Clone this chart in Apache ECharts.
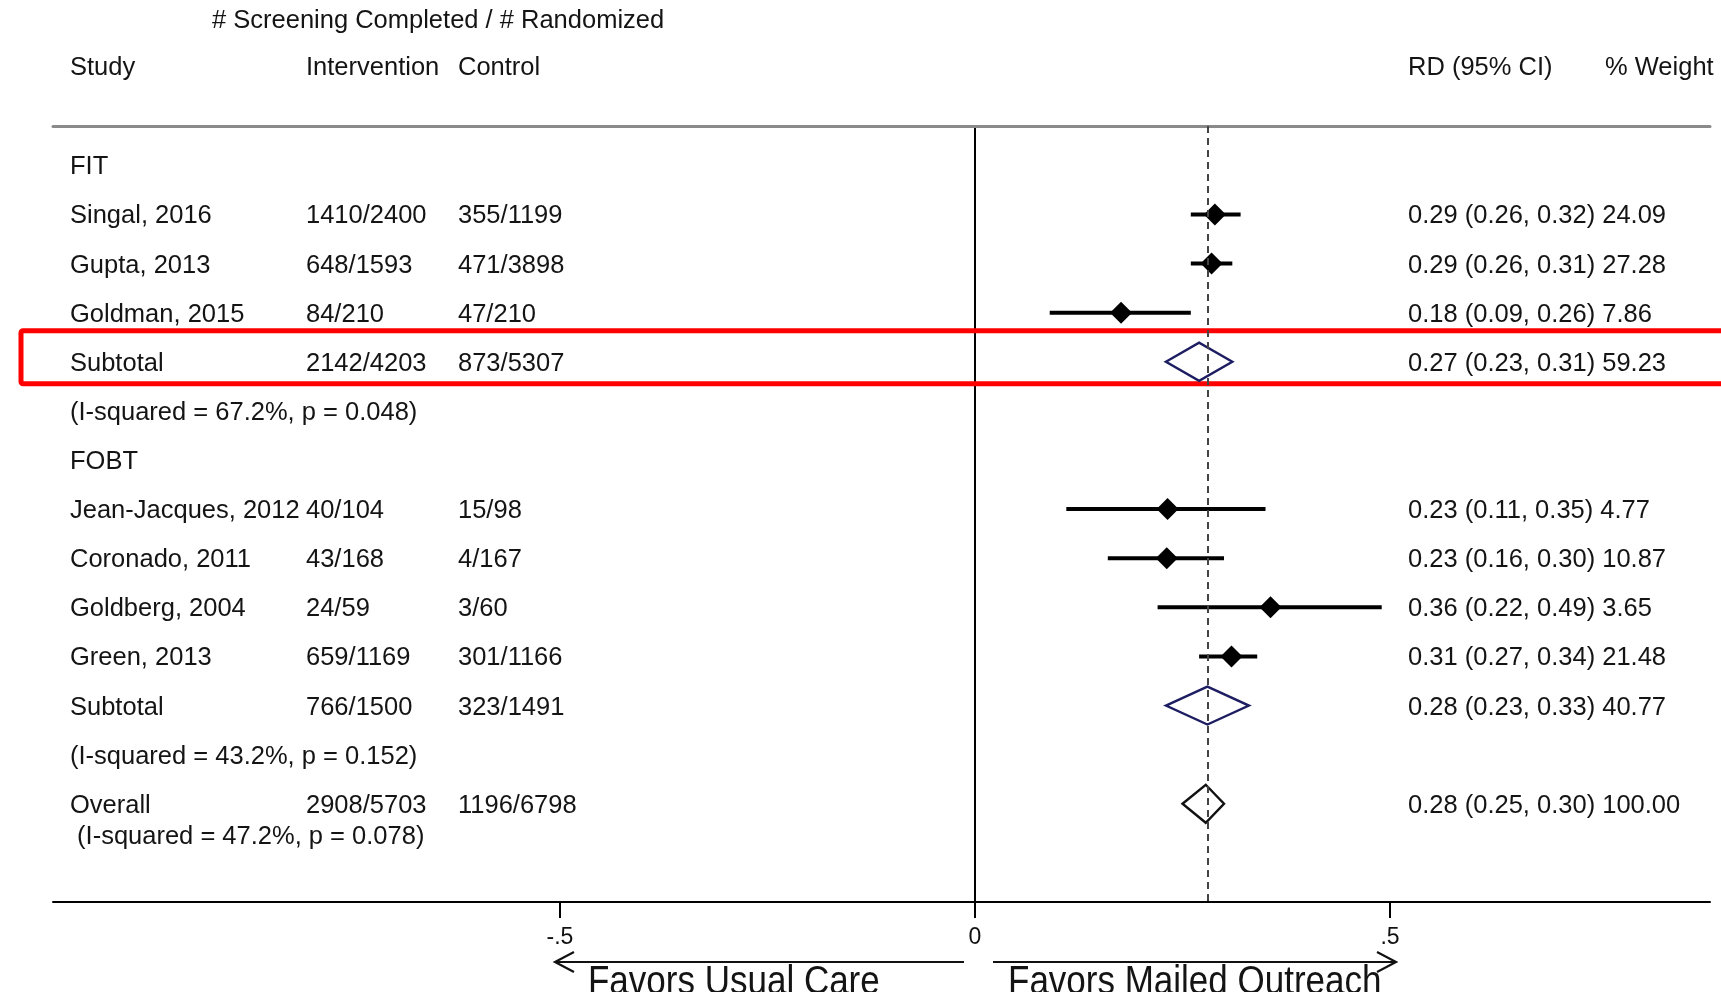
<!DOCTYPE html>
<html>
<head>
<meta charset="utf-8">
<script src="https://cdn.jsdelivr.net/npm/echarts@6/dist/echarts.min.js"></script>
<style>
html, body { margin: 0; padding: 0; background: #fff; }
#chart { width: 1721px; height: 992px; }
</style>
</head>
<body>
<div id="chart"></div>
<script>
// rows of the forest plot, top to bottom
var rowLabels = ['FIT', 'Singal, 2016', 'Gupta, 2013', 'Goldman, 2015', 'Subtotal',
    '(I-squared = 67.2%, p = 0.048)', 'FOBT', 'Jean-Jacques, 2012', 'Coronado, 2011',
    'Goldberg, 2004', 'Green, 2013', 'Subtotal', '(I-squared = 43.2%, p = 0.152)',
    'Overall', ' (I-squared = 47.2%, p = 0.078)'];
var rowKinds = ['group', 'study', 'study', 'study', 'subtotal', 'note', 'group', 'study', 'study',
    'study', 'study', 'subtotal', 'note', 'overall', 'note'];
var interventionText = ['', '1410/2400', '648/1593', '84/210', '2142/4203', '', '', '40/104', '43/168',
    '24/59', '659/1169', '766/1500', '', '2908/5703', ''];
var controlText = ['', '355/1199', '471/3898', '47/210', '873/5307', '', '', '15/98', '4/167',
    '3/60', '301/1166', '323/1491', '', '1196/6798', ''];
var rdText = ['', '0.29 (0.26, 0.32)', '0.29 (0.26, 0.31)', '0.18 (0.09, 0.26)', '0.27 (0.23, 0.31)', '', '',
    '0.23 (0.11, 0.35)', '0.23 (0.16, 0.30)', '0.36 (0.22, 0.49)', '0.31 (0.27, 0.34)', '0.28 (0.23, 0.33)', '',
    '0.28 (0.25, 0.30)', ''];
var weightText = ['', '24.09', '27.28', '7.86', '59.23', '', '', '4.77', '10.87', '3.65', '21.48', '40.77', '',
    '100.00', ''];
var estimate = [null, 0.289, 0.285, 0.176, 0.27, null, null, 0.232, 0.231, 0.356, 0.309, 0.28, null, 0.278, null];
var lower = [null, 0.26, 0.26, 0.09, 0.23, null, null, 0.11, 0.16, 0.22, 0.27, 0.23, null, 0.25, null];
var upper = [null, 0.32, 0.31, 0.26, 0.31, null, null, 0.35, 0.30, 0.49, 0.34, 0.33, null, 0.30, null];

var tickValues = [-0.5, 0, 0.5];
var tickLabels = ['-.5', '0', '.5'];
var favorsLabels = ['Favors Usual Care', 'Favors Mailed Outreach'];
var highlightRow = 4;

var FONT = '"Liberation Sans", Arial, sans-serif';
var TXT = '#141414';
var colX = [70, 306, 458, 1408];

function rowY(i) {
    // the overall note sits just under the overall line
    if (rowKinds[i] === 'note' && rowKinds[i - 1] === 'overall') return i - 1 + 0.63;
    return i;
}

var markData = [];
var tableData = [];
for (var i = 0; i < rowLabels.length; i++) {
    tableData.push([0, rowY(i), i]);
    if (estimate[i] != null) markData.push([estimate[i], rowY(i), lower[i], upper[i], i]);
}
var overallIdx = rowKinds.indexOf('overall');

function renderForest(params, api) {
    var idx = api.value(4);
    var kind = rowKinds[idx];
    var y = api.value(1);
    var c = api.coord([api.value(0), y]);
    var l = api.coord([api.value(2), y]);
    var h = api.coord([api.value(3), y]);
    if (kind === 'study') {
        var s = 11;
        return {
            type: 'group',
            children: [
                { type: 'line', shape: { x1: l[0], y1: c[1], x2: h[0], y2: c[1] },
                  style: { stroke: '#000', lineWidth: 4 } },
                { type: 'polygon',
                  shape: { points: [[c[0] - s, c[1]], [c[0], c[1] - s], [c[0] + s, c[1]], [c[0], c[1] + s]] },
                  style: { fill: '#000' } }
            ]
        };
    }
    var hh = 19;
    return {
        type: 'polygon',
        shape: { points: [[l[0], c[1]], [c[0], c[1] - hh], [h[0], c[1]], [c[0], c[1] + hh]] },
        style: { fill: 'none', stroke: kind === 'overall' ? '#111' : '#1d1d62', lineWidth: 2.4 }
    };
}

function txt(x, y, s) {
    return { type: 'text', x: x, y: y,
        style: { text: s, fill: TXT, font: '25.5px ' + FONT, verticalAlign: 'middle', align: 'left' } };
}

function renderTable(params, api) {
    var idx = api.value(2);
    var y = api.coord([0, api.value(1)])[1];
    var kids = [];
    if (idx === highlightRow) {
        kids.push({ type: 'rect', shape: { x: 21, y: y - 31, width: 1740, height: 53, r: 2 },
            style: { fill: 'none', stroke: '#f00', lineWidth: 5 } });
    }
    var ty = y + 2;
    kids.push(txt(colX[0], ty, rowLabels[idx]));
    if (interventionText[idx]) kids.push(txt(colX[1], ty, interventionText[idx]));
    if (controlText[idx]) kids.push(txt(colX[2], ty, controlText[idx]));
    if (rdText[idx]) kids.push(txt(colX[3], ty, rdText[idx] + ' ' + weightText[idx]));
    return { type: 'group', children: kids };
}

function headText(id, x, y, s) {
    return { id: id, type: 'text', x: x, y: y,
        style: { text: s, fill: TXT, font: '25.5px ' + FONT, verticalAlign: 'middle' } };
}

var chart = echarts.init(document.getElementById('chart'));
var option = {
    animation: false,
    backgroundColor: '#fff',
    grid: { left: 53, right: 11, top: 126, bottom: 90 },
    xAxis: [{
        type: 'value', min: -1.1108, max: 0.8855, position: 'bottom',
        axisLine: { onZero: false, lineStyle: { color: '#000', width: 2 } },
        axisTick: { show: true, length: 16, customValues: tickValues, lineStyle: { color: '#000', width: 2 } },
        axisLabel: {
            customValues: tickValues, margin: 24, color: '#111', fontSize: 23, fontFamily: FONT,
            formatter: function (v) { return tickLabels[tickValues.indexOf(v)]; }
        },
        splitLine: { show: false }
    }, {
        type: 'value', min: -1.1108, max: 0.8855, position: 'top',
        axisLine: { onZero: false, lineStyle: { color: '#8a8a8a', width: 3 } },
        axisTick: { show: false }, axisLabel: { show: false }, splitLine: { show: false }
    }],
    yAxis: {
        type: 'value', min: -0.8, max: 15, inverse: true,
        axisLine: { show: true, onZero: true, lineStyle: { color: '#000', width: 2 } },
        axisTick: { show: false }, axisLabel: { show: false }, splitLine: { show: false }
    },
    graphic: [
        headText('hScreen', 212, 21, '# Screening Completed / # Randomized'),
        headText('hStudy', colX[0], 68, 'Study'),
        headText('hInt', colX[1], 68, 'Intervention'),
        headText('hCtl', colX[2], 68, 'Control'),
        headText('hRd', colX[3], 68, 'RD (95% CI)'),
        headText('hW', 1605, 68, '% Weight')
    ],
    series: [{
        type: 'custom',
        name: 'table',
        renderItem: renderTable,
        data: tableData,
        silent: true,
        z: 3
    }, {
        type: 'custom',
        name: 'RD',
        renderItem: renderForest,
        data: markData,
        silent: true,
        z: 4,
        markLine: {
            silent: true,
            symbol: 'none',
            label: { show: false },
            lineStyle: { color: '#444', width: 2, type: [7, 5] },
            data: [{ xAxis: estimate[overallIdx] }]
        }
    }]
};
chart.setOption(option);

// direction arrows under the axis
var yArrow = 962;
var pm = chart.convertToPixel({ xAxisIndex: 0 }, tickValues[0]);
var p0 = chart.convertToPixel({ xAxisIndex: 0 }, tickValues[1]);
var pp = chart.convertToPixel({ xAxisIndex: 0 }, tickValues[2]);
var arrowStyle = { stroke: '#111', lineWidth: 2.2, fill: 'none' };
var favFont = '40px ' + FONT;
chart.setOption({
    graphic: [
        { id: 'aL', type: 'polyline', shape: { points: [[p0 - 11, yArrow], [pm - 5, yArrow]] }, style: arrowStyle },
        { id: 'aLh', type: 'polyline', shape: { points: [[pm + 14, yArrow - 10], [pm - 5, yArrow], [pm + 14, yArrow + 10]] }, style: arrowStyle },
        { id: 'aR', type: 'polyline', shape: { points: [[p0 + 18, yArrow], [pp + 6, yArrow]] }, style: arrowStyle },
        { id: 'aRh', type: 'polyline', shape: { points: [[pp - 13, yArrow - 10], [pp + 6, yArrow], [pp - 13, yArrow + 10]] }, style: arrowStyle },
        { id: 'fL', type: 'text', x: pm + 28, y: 983, scaleX: 0.875,
          style: { text: favorsLabels[0], fill: TXT, font: favFont, verticalAlign: 'middle' } },
        { id: 'fR', type: 'text', x: p0 + 33, y: 983, scaleX: 0.875,
          style: { text: favorsLabels[1], fill: TXT, font: favFont, verticalAlign: 'middle' } }
    ]
});
</script>
</body>
</html>
